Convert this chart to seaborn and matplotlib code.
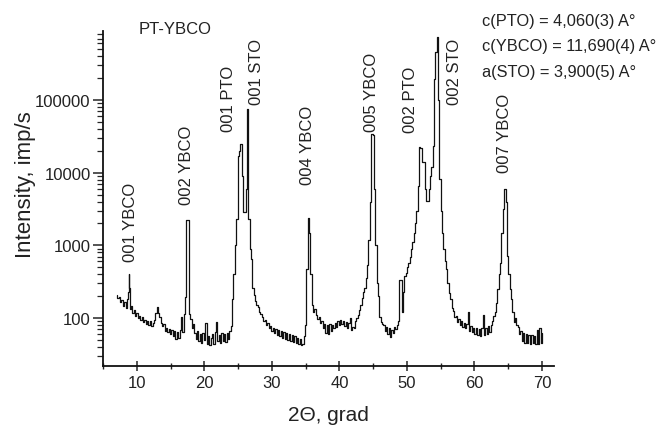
import matplotlib
matplotlib.use("Agg")
import matplotlib.pyplot as plt
import matplotlib.ticker as mticker
import seaborn as sns
import pandas as pd

# XRD scan (2theta in degrees, intensity in imp/s)
two_theta = [
    7.0, 7.2, 7.4, 7.6, 7.8, 8.0, 8.2, 8.4, 8.6, 8.7,
    8.8, 8.9, 9.0, 9.2, 9.4, 9.6, 9.8, 10.0, 10.2, 10.4,
    10.6, 10.8, 11.0, 11.2, 11.4, 11.6, 11.8, 12.0, 12.2, 12.4,
    12.6, 12.8, 13.0, 13.2, 13.4, 13.6, 13.8, 14.0, 14.2, 14.4,
    14.6, 14.8, 15.0, 15.2, 15.4, 15.6, 15.8, 16.0, 16.2, 16.4,
    16.6, 16.8, 17.0, 17.2, 17.4, 17.6, 17.8, 18.0, 18.2, 18.4,
    18.6, 18.8, 19.0, 19.2, 19.4, 19.6, 19.8, 20.0, 20.2, 20.4,
    20.6, 20.8, 21.0, 21.2, 21.4, 21.6, 21.8, 22.0, 22.2, 22.4,
    22.6, 22.8, 23.0, 23.2, 23.4, 23.6, 23.8, 24.0, 24.2, 24.4,
    24.6, 24.8, 25.0, 25.2, 25.4, 25.6, 25.8, 26.0, 26.2, 26.4,
    26.6, 26.8, 27.0, 27.2, 27.4, 27.6, 27.8, 28.0, 28.2, 28.4,
    28.6, 28.8, 29.0, 29.2, 29.4, 29.6, 29.8, 30.0, 30.2, 30.4,
    30.6, 30.8, 31.0, 31.2, 31.4, 31.6, 31.8, 32.0, 32.2, 32.4,
    32.6, 32.8, 33.0, 33.2, 33.4, 33.6, 33.8, 34.0, 34.2, 34.4,
    34.6, 34.8, 35.0, 35.2, 35.4, 35.6, 35.8, 36.0, 36.2, 36.4,
    36.6, 36.8, 37.0, 37.2, 37.4, 37.6, 37.8, 38.0, 38.2, 38.4,
    38.6, 38.8, 39.0, 39.2, 39.4, 39.6, 39.8, 40.0, 40.2, 40.4,
    40.6, 40.8, 41.0, 41.2, 41.4, 41.6, 41.8, 42.0, 42.2, 42.4,
    42.6, 42.8, 43.0, 43.2, 43.4, 43.6, 43.8, 44.0, 44.2, 44.4,
    44.6, 44.8, 45.0, 45.2, 45.4, 45.6, 45.8, 46.0, 46.2, 46.4,
    46.6, 46.8, 47.0, 47.2, 47.4, 47.6, 47.8, 48.0, 48.2, 48.4,
    48.6, 48.8, 48.9, 49.1, 49.3, 49.5, 49.7, 49.9, 50.1, 50.3,
    50.5, 50.7, 50.9, 51.1, 51.3, 51.5, 51.7, 51.9, 52.1, 52.3,
    52.5, 52.7, 52.9, 53.1, 53.3, 53.5, 53.7, 53.9, 54.1, 54.3,
    54.5, 54.7, 54.9, 55.1, 55.3, 55.5, 55.7, 55.9, 56.1, 56.3,
    56.5, 56.7, 56.9, 57.1, 57.3, 57.5, 57.7, 57.9, 58.1, 58.3,
    58.5, 58.7, 58.9, 59.1, 59.3, 59.5, 59.7, 59.9, 60.1, 60.3,
    60.5, 60.7, 60.9, 61.1, 61.3, 61.5, 61.7, 61.9, 62.1, 62.3,
    62.5, 62.7, 62.9, 63.1, 63.3, 63.5, 63.7, 63.9, 64.1, 64.3,
    64.5, 64.7, 64.9, 65.1, 65.3, 65.5, 65.7, 65.9, 66.1, 66.3,
    66.5, 66.7, 66.9, 67.1, 67.3, 67.5, 67.7, 67.9, 68.1, 68.3,
    68.5, 68.7, 68.9, 69.1, 69.3, 69.5, 69.7, 69.9, 70.0,
]
intensity = [
    205, 186, 192, 168, 176, 148, 168, 138, 182, 230,
    400, 260, 135, 146, 116, 128, 106, 118, 100, 106,
    95, 104, 88, 94, 84, 92, 80, 90, 78, 86,
    95, 118, 142, 118, 104, 86, 78, 84, 66, 74,
    64, 70, 60, 68, 56, 66, 52, 64, 54, 68,
    102, 64, 112, 195, 2250, 2200, 115, 98, 74, 83,
    62, 52, 66, 48, 60, 46, 62, 50, 86, 44,
    56, 43, 54, 60, 44, 64, 88, 48, 58, 46,
    62, 48, 60, 47, 62, 52, 66, 78, 180, 400,
    1000, 2300, 17000, 20000, 24700, 9000, 2840, 2900, 5900, 75000,
    2300, 900, 650, 260, 205, 172, 150, 142, 122, 112,
    104, 90, 94, 80, 86, 72, 78, 66, 74, 62,
    70, 58, 68, 56, 66, 54, 64, 52, 62, 50,
    60, 49, 58, 47, 56, 45, 54, 44, 52, 42,
    44, 56, 80, 470, 2350, 1500, 400, 150, 120, 132,
    110, 96, 104, 86, 92, 74, 82, 62, 80, 60,
    82, 66, 80, 72, 86, 76, 90, 80, 94, 82,
    90, 78, 88, 74, 86, 100, 68, 76, 72, 92,
    100, 110, 130, 150, 190, 230, 260, 350, 530, 1200,
    3900, 34000, 33000, 6000, 1000, 300, 200, 102, 88, 82,
    80, 66, 76, 60, 72, 55, 68, 62, 76, 70,
    80, 90, 330, 330, 120, 225, 380, 420, 500, 580,
    700, 900, 1100, 1500, 2000, 3000, 6600, 22300, 22000, 14000,
    13800, 6000, 4100, 4100, 6000, 9000, 12000, 23500, 195000, 460000,
    730000, 100000, 8200, 3000, 1500, 900, 600, 470, 300, 220,
    180, 136, 124, 104, 108, 88, 96, 80, 90, 76,
    86, 72, 82, 120, 66, 78, 64, 74, 60, 72,
    58, 70, 56, 72, 110, 58, 74, 60, 78, 64,
    80, 90, 108, 120, 160, 250, 400, 580, 1500, 3150,
    5900, 4000, 720, 400, 250, 180, 120, 87, 100, 80,
    76, 60, 66, 48, 62, 45, 60, 46, 58, 44,
    58, 46, 56, 44, 68, 44, 72, 46, 62,
]

peak_labels = ["001 YBCO", "002 YBCO", "001 PTO", "001 STO", "004 YBCO",
               "005 YBCO", "002 PTO", "002 STO", "007 YBCO"]
label_x = [9.04, 17.36, 23.56, 27.7, 35.33, 44.74, 50.52, 57.1, 64.5]
label_y = [614, 3700, 37300, 87900, 6970, 37300, 36200, 87900, 10200]

lattice_text = ["c(PTO) = 4,060(3) A°", "c(YBCO) = 11,690(4) A°", "a(STO) = 3,900(5) A°"]

df = pd.DataFrame({"two_theta": two_theta, "intensity": intensity})

sns.set_style("ticks")
plt.rcParams["font.family"] = ["Liberation Sans", "DejaVu Sans"]
txt = "#222222"

fig = plt.figure(figsize=(6.66, 4.27), dpi=100)
ax = fig.add_axes([0.155, 0.1405, 0.677, 0.7845])

sns.lineplot(data=df, x="two_theta", y="intensity", ax=ax, color="#111111",
             linewidth=0.9, estimator=None, drawstyle="steps-mid")

ax.set_yscale("log")
ax.set_xlim(5, 71.8)
ax.set_ylim(21.9, 887000)

ax.xaxis.set_major_locator(mticker.MultipleLocator(10))
ax.xaxis.set_minor_locator(mticker.MultipleLocator(5))
ax.yaxis.set_major_locator(mticker.FixedLocator([100, 1000, 10000, 100000]))
ax.yaxis.set_major_formatter(mticker.FuncFormatter(lambda v, p: f"{int(round(v))}"))
ax.yaxis.set_minor_locator(mticker.LogLocator(base=10, subs=range(2, 10), numticks=20))
ax.yaxis.set_minor_formatter(mticker.NullFormatter())

ax.tick_params(axis="x", which="major", direction="inout", length=7, width=1.1,
               labelsize=12, labelcolor=txt, pad=3)
ax.tick_params(axis="x", which="minor", direction="inout", length=5, width=1.0)
ax.tick_params(axis="y", which="major", direction="out", length=7, width=1.1,
               labelsize=12, labelcolor=txt, pad=2)
ax.tick_params(axis="y", which="minor", direction="out", length=4, width=0.9)

sns.despine(ax=ax)
for s in ["left", "bottom"]:
    ax.spines[s].set_linewidth(1.3)
    ax.spines[s].set_color("#111111")

ax.set_xlabel("2Θ, grad", fontsize=15, color=txt)
ax.set_ylabel("Intensity, imp/s", fontsize=16, color=txt)
ax.xaxis.set_label_coords(0.499, -0.115)
ax.yaxis.set_label_coords(-0.15, 0.543)

for name, lx, ly in zip(peak_labels, label_x, label_y):
    ax.text(lx, ly, name, rotation=90, ha="center", va="bottom",
            fontsize=12, color=txt)

fig.text(0.2087, 0.932, "PT-YBCO", fontsize=12, color=txt, va="center", ha="left")
for i, line in enumerate(lattice_text):
    fig.text(0.724, 0.9496 - i * 0.0592, line, fontsize=11.8, color=txt,
             va="center", ha="left")

fig.savefig("out.png", dpi=100)
